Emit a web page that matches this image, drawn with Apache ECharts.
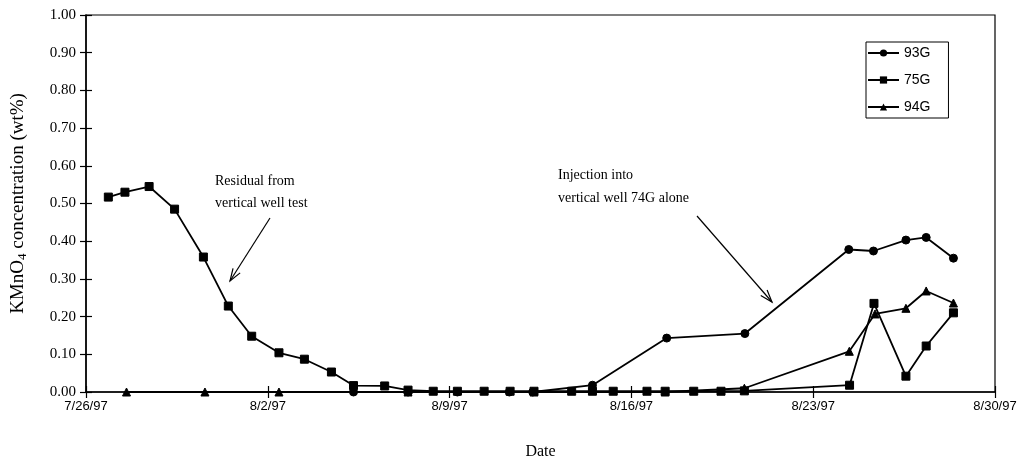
<!DOCTYPE html>
<html>
<head>
<meta charset="utf-8">
<script src="https://cdn.jsdelivr.net/npm/echarts@6/dist/echarts.min.js"></script>
<style>
html,body{margin:0;padding:0;background:#fff;}
#chart{width:1026px;height:465px;}
</style>
</head>
<body>
<div id="chart"></div>
<script>
// x values: days since 7/26/97 (fractional, measurement time)
var xTickLabels = ['7/26/97','8/2/97','8/9/97','8/16/97','8/23/97','8/30/97'];
var yTickLabels = ['0.00','0.10','0.20','0.30','0.40','0.50','0.60','0.70','0.80','0.90','1.00'];

var days93G = [10.3, 12.4, 14.3, 16.3, 17.2, 19.5, 22.36, 25.37, 29.37, 30.32, 31.57, 32.35, 33.4];
var vals93G = [0.000, 0.000, 0.000, 0.000, 0.000, 0.018, 0.143, 0.155, 0.378, 0.374, 0.403, 0.410, 0.355];

var days75G = [0.86, 1.5, 2.43, 3.41, 4.52, 5.48, 6.38, 7.43, 8.41, 9.45, 10.3, 11.5, 12.4, 13.37, 14.3, 15.33, 16.33, 17.25, 18.7, 19.5, 20.3, 21.6, 22.3, 23.4, 24.45, 25.35, 29.4, 30.34, 31.57, 32.35, 33.4];
var vals75G = [0.517, 0.530, 0.545, 0.485, 0.358, 0.228, 0.148, 0.104, 0.087, 0.053, 0.017, 0.016, 0.005, 0.002, 0.002, 0.002, 0.002, 0.002, 0.002, 0.002, 0.002, 0.002, 0.002, 0.002, 0.002, 0.003, 0.018, 0.235, 0.042, 0.122, 0.210];

var days94G = [1.56, 4.58, 7.43, 12.4, 17.25, 22.3, 25.35, 29.39, 30.38, 31.57, 32.35, 33.4];
var vals94G = [0.000, 0.000, 0.000, 0.000, 0.000, 0.000, 0.010, 0.108, 0.207, 0.222, 0.268, 0.236];

function zip(xs, ys){ return xs.map(function(x,i){ return [x, ys[i]]; }); }

var serif = '"Liberation Serif","Times New Roman",serif';
var sans = '"Liberation Sans",Arial,sans-serif';

var chart = echarts.init(document.getElementById('chart'), null, {renderer:'canvas'});

function arrow(x1,y1,x2,y2){
  var dx=x2-x1, dy=y2-y1, L=Math.sqrt(dx*dx+dy*dy), ux=dx/L, uy=dy/L;
  var h=13, a=0.33;
  function rot(t){ return [x2 - h*(ux*Math.cos(t) - uy*Math.sin(t)), y2 - h*(uy*Math.cos(t) + ux*Math.sin(t))]; }
  var p1=rot(a), p2=rot(-a);
  var st={stroke:'#000', lineWidth:1.2};
  return [
    {type:'line', shape:{x1:x1,y1:y1,x2:x2,y2:y2}, style:st, silent:true},
    {type:'polyline', shape:{points:[p1,[x2,y2],p2]}, style:{stroke:'#000', lineWidth:1.2, fill:null}, silent:true}
  ];
}

var lineStyle = {color:'#000', width:1.8};
function mkSeries(name, data, symbol, size){
  return {
    name:name, type:'line', data:data, symbol:symbol, symbolSize:size,
    showSymbol:true, animation:false,
    lineStyle:lineStyle, itemStyle:{color:'#000', borderColor:'#000'}
  };
}

var option = {
  backgroundColor:'#fff',
  animation:false,
  grid:{left:86, right:31, top:15, bottom:73, show:true, borderColor:'#000', borderWidth:1.2, containLabel:false},
  legend:{
    orient:'vertical', left:866, top:42,
    data:['93G','75G','94G'],
    borderColor:'#000', borderWidth:1, borderRadius:0,
    padding:[4,18,4,1],
    itemGap:13, itemWidth:31, itemHeight:9,
    textStyle:{fontFamily:sans, fontSize:14, color:'#000'}
  },
  xAxis:[{
    type:'value', min:0, max:35, interval:7,
    axisLine:{show:true, lineStyle:{color:'#000', width:1.5}},
    axisTick:{show:true, length:6, lineStyle:{color:'#000', width:1.2}},
    splitLine:{show:false},
    axisLabel:{margin:8, color:'#000', fontFamily:sans, fontSize:13,
      formatter:function(v){ return xTickLabels[Math.round(v/7)] || ''; }},
    name:'Date', nameLocation:'middle', nameGap:52,
    nameTextStyle:{fontFamily:serif, fontSize:16, color:'#000'}
  },{
    type:'value', min:0, max:35, interval:7, position:'bottom',
    axisLine:{show:false}, axisLabel:{show:false}, splitLine:{show:false},
    axisTick:{show:true, inside:true, length:6, lineStyle:{color:'#000', width:1.2}}
  }],
  yAxis:[{
    type:'value', min:0, max:1, interval:0.1,
    axisLine:{show:true, lineStyle:{color:'#000', width:1.5}},
    axisTick:{show:true, length:6, lineStyle:{color:'#000', width:1.2}},
    splitLine:{show:false},
    axisLabel:{margin:10, color:'#000', fontFamily:serif, fontSize:15,
      formatter:function(v){ return yTickLabels[Math.round(v*10)] || ''; }},
    name:'KMnO{sub|4} concentration (wt%)', nameLocation:'middle', nameGap:57,
    nameTextStyle:{fontFamily:serif, fontSize:19, color:'#000',
      rich:{sub:{fontFamily:serif, fontSize:13, color:'#000', verticalAlign:'bottom', padding:[9,0,0,0]}}}
  },{
    type:'value', min:0, max:1, interval:0.1, position:'left',
    axisLine:{show:false}, axisLabel:{show:false}, splitLine:{show:false},
    axisTick:{show:true, inside:true, length:6, lineStyle:{color:'#000', width:1.2}}
  }],
  series:[
    mkSeries('93G', zip(days93G, vals93G), 'circle', 8),
    mkSeries('75G', zip(days75G, vals75G), 'rect', 8),
    mkSeries('94G', zip(days94G, vals94G), 'triangle', 8)
  ],
  graphic:[].concat(
    [
      {type:'text', left:215, top:170, style:{text:'Residual from\nvertical well test', font:'14px '+serif, fill:'#000', lineHeight:22}, silent:true},
      {type:'text', left:558, top:164, style:{text:'Injection into\nvertical well 74G alone', font:'14px '+serif, fill:'#000', lineHeight:23}, silent:true}
    ],
    arrow(270,218,230,281),
    arrow(697,216,772,302)
  )
};
chart.setOption(option);
</script>
</body>
</html>
